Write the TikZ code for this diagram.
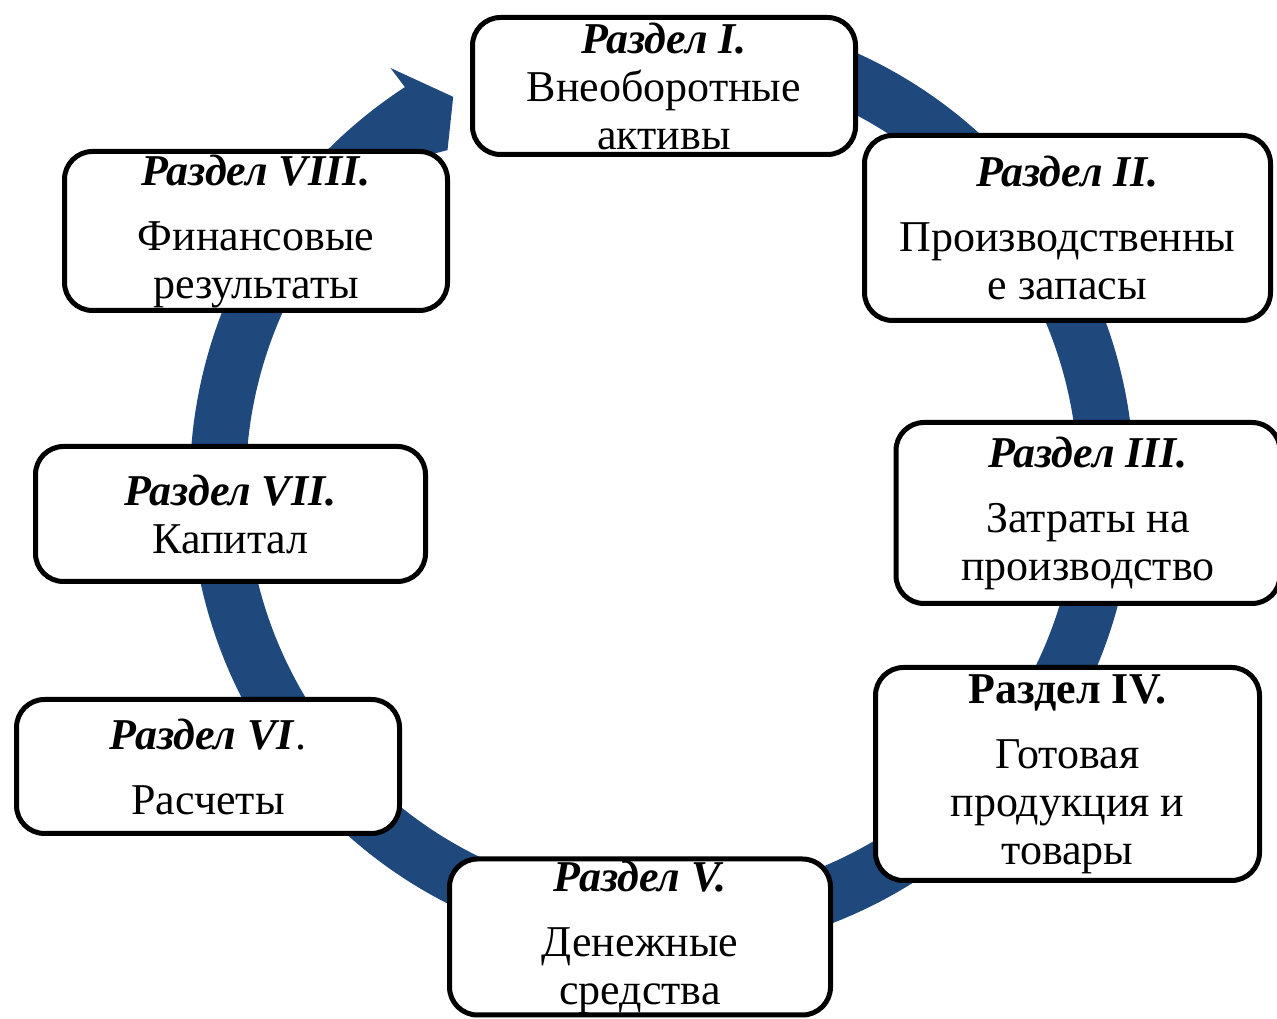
\documentclass[tikz,border=0pt]{standalone}
\usepackage{fontspec}
\setmainfont{Liberation Serif}
\usepackage{xcolor}
\usetikzlibrary{calc}
\definecolor{anello}{RGB}{31,73,125}

\tikzset{
    razdel/.style={draw, line width=5pt, rounded corners=28pt, fill=white,
        align=center, inner sep=0pt, font=\fontsize{44}{48}\selectfont},
    titolo/.style={font=\bfseries\itshape}
}

\begin{document}
\begin{tikzpicture}[x=1pt, y=1pt]
        \useasboundingbox (0,0) rectangle (1277,1019);

        % Anello
        \coordinate (c) at (662,536);
        \draw[anello, line width=56pt] ($(c)+(75:444pt)$) arc (75:-237:444pt);
        % Punta della freccia
        \fill[anello] ($(c)+(123.2:496pt)$) -- ($(c)+(118.4:439pt)$) -- ($(c)+(122.8:396pt)$)
            -- ($(c)+(128:410pt)$) -- ($(c)+(123:472pt)$) -- cycle;

        % Sezioni
        \node[razdel, minimum width=383pt, minimum height=137pt] (r1) at (664,933)
            {\textbf{\textit{Раздел I.}}\\Внеоборотные\\активы};
        \node[razdel, minimum width=406pt, minimum height=185pt] (r2) at (1067.5,791)
            {\textbf{\textit{Раздел II.}}\\[17pt]Производственны\\е запасы};
        \node[razdel, minimum width=384pt, minimum height=181pt] (r3) at (1088,506)
            {\textbf{\textit{Раздел III.}}\\[17pt]Затраты на\\производство};
        \node[razdel, minimum width=384pt, minimum height=213pt] (r4) at (1067.5,245)
            {\textbf{Раздел IV.}\\[17pt]Готовая\\продукция и\\товары};
        \node[razdel, minimum width=381pt, minimum height=156pt] (r5) at (640,82)
            {\textbf{\textit{Раздел V.}}\\[17pt]Денежные\\средства};
        \node[razdel, minimum width=383pt, minimum height=134pt] (r6) at (208,252.5)
            {\textbf{\textit{Раздел VI}}.\\[17pt]Расчеты};
        \node[razdel, minimum width=390pt, minimum height=135pt] (r7) at (230.5,505)
            {\textbf{\textit{Раздел VII.}}\\Капитал};
        \node[razdel, minimum width=383pt, minimum height=159pt] (r8) at (256,788)
            {\textbf{\textit{Раздел VIII.}}\\[17pt]Финансовые\\результаты};
    \end{tikzpicture}
\end{document}
